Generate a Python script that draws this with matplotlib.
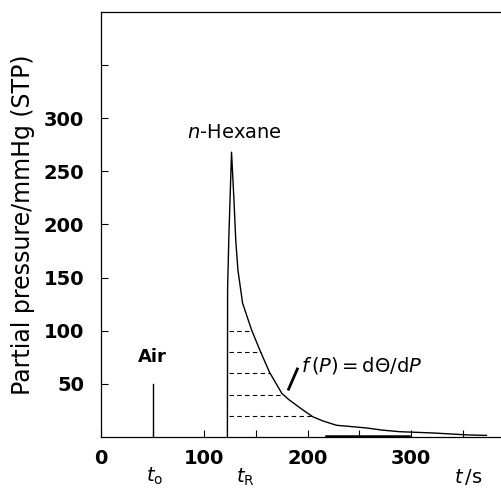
import numpy as np
import matplotlib
matplotlib.use("Agg")
import matplotlib.pyplot as plt
import matplotlib.transforms as mtransforms

plt.rcParams['font.family'] = ['DejaVu Sans']
plt.rcParams['mathtext.fontset'] = 'dejavusans'

# n-hexane response (time in s, partial pressure in mmHg)
t_hex = [122.3, 122.5, 123.7, 126.3, 128.5, 130.4, 132.5, 137, 145.6, 153.6,
         163, 175, 182, 189, 196, 205, 215, 228, 240, 257, 272, 289, 321,
         354, 373]
p_hex = [0, 140, 188, 268, 226, 185, 157, 126, 101, 82,
         61, 41, 35, 30, 25, 19, 15, 11, 10, 8.5, 6.5, 5, 3.8,
         2, 1.5]

# air marker
t_air = 50
p_air = 50

# pressure levels of the dashed slices
levels = [20, 40, 60, 80, 100]

# thicker baseline segment seen on the trace
base_t = [218, 298]

x_major = [0, 100, 200, 300]
x_minor = [50, 150, 250, 350]
y_major = [50, 100, 150, 200, 250, 300]
y_minor = [350]

fig = plt.figure(figsize=(5.02, 4.88), dpi=100)
ax = fig.add_axes([101 / 502, 51 / 488, 1 - 101 / 502, 425 / 488])

ax.plot(t_hex, p_hex, color='black', lw=1.0)
ax.plot([t_air, t_air], [0, p_air], color='black', lw=1.0)
ax.plot(base_t, [0.6, 0.6], color='black', lw=1.8)

# dashed slices from the front edge to the decaying curve
t_dec = np.array(t_hex[3:])
p_dec = np.array(p_hex[3:])
for lv in levels:
    t_end = np.interp(lv, p_dec[::-1], t_dec[::-1])
    ax.plot([124, t_end], [lv, lv], color='black', lw=0.8,
            linestyle=(0, (4, 3)))

# annotation leader
ax.plot([181.5, 190], [45, 64], color='black', lw=2.0)
ax.text(194, 67, r'$f\,(P) = \mathrm{d}\Theta/\mathrm{d}P$', fontsize=14,
        ha='left', va='center')

ax.text(129.5, 287, r'$n$-Hexane', fontsize=14, ha='center', va='center')
ax.text(t_air, 75, 'Air', fontsize=13, fontweight='bold', ha='center',
        va='center')

trans = mtransforms.blended_transform_factory(ax.transData, ax.transAxes)
ax.text(52, -0.093, r'$t_{\rm o}$', fontsize=14, ha='center', va='center',
        transform=trans)
ax.text(139.5, -0.095, r'$t_{\rm R}$', fontsize=14, ha='center', va='center',
        transform=trans)
ax.text(355, -0.093, r'$t\,/\mathrm{s}$', fontsize=14, ha='center',
        va='center', transform=trans)

ax.set_xlim(0, 388)
ax.set_ylim(0, 400)
ax.set_xticks(x_major)
ax.set_xticks(x_minor, minor=True)
ax.set_yticks(y_major)
ax.set_yticks(y_minor, minor=True)
for lab in ax.get_xticklabels() + ax.get_yticklabels():
    lab.set_fontweight('bold')
ax.tick_params(axis='both', which='both', direction='in', length=5,
               width=0.8, labelsize=14)
ax.tick_params(axis='x', pad=9)
ax.tick_params(axis='y', pad=12)

ax.spines['right'].set_visible(False)
for s in ['left', 'top', 'bottom']:
    ax.spines[s].set_linewidth(0.9)

ax.set_ylabel('Partial pressure/mmHg (STP)', fontsize=17, labelpad=6)

fig.savefig('out.png', dpi=100)
